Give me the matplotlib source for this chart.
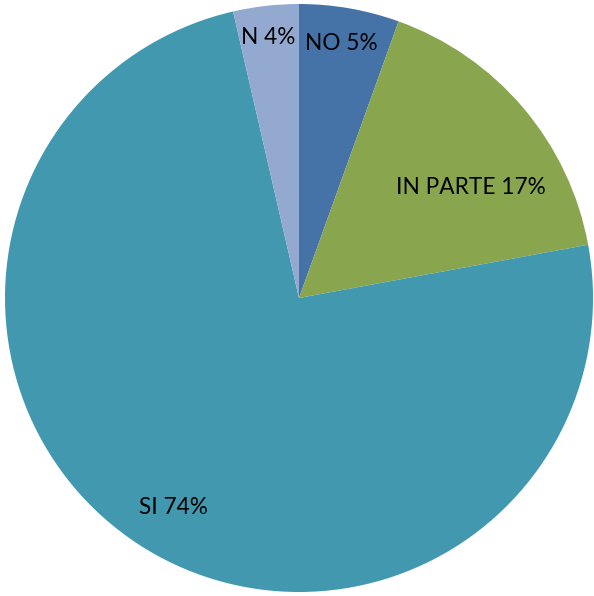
import matplotlib
matplotlib.use("Agg")
import matplotlib.pyplot as plt

# slices, clockwise from 12 o'clock
labels = ["NO", "IN PARTE", "SI", "N"]
values = [5.5, 16.6, 74.3, 3.6]
shown_pct = [5, 17, 74, 4]
colors = ["#4572A7", "#89A54E", "#4198AF", "#93A9CF"]

# label anchor points (pixel coords, y from top)
label_pos = [(341, 44), (471, 187), (173, 508), (268, 38)]

W, H = 594, 596
fig = plt.figure(figsize=(W / 100, H / 100), dpi=100)
ax = fig.add_axes([0, 0, 1, 1])

ax.pie(values, colors=colors, startangle=90, counterclock=False,
       center=(299, H - 298), radius=294, frame=True,
       wedgeprops=dict(linewidth=0))
ax.set_xlim(0, W)
ax.set_ylim(0, H)
ax.set_aspect("equal")
ax.axis("off")

for lab, p, (x, y) in zip(labels, shown_pct, label_pos):
    ax.text(x, H - y, f"{lab} {p}%", ha="center", va="center",
            fontsize=16.3, family=["Lato", "DejaVu Sans"], color="#000000")

fig.savefig("out.png", dpi=100)
